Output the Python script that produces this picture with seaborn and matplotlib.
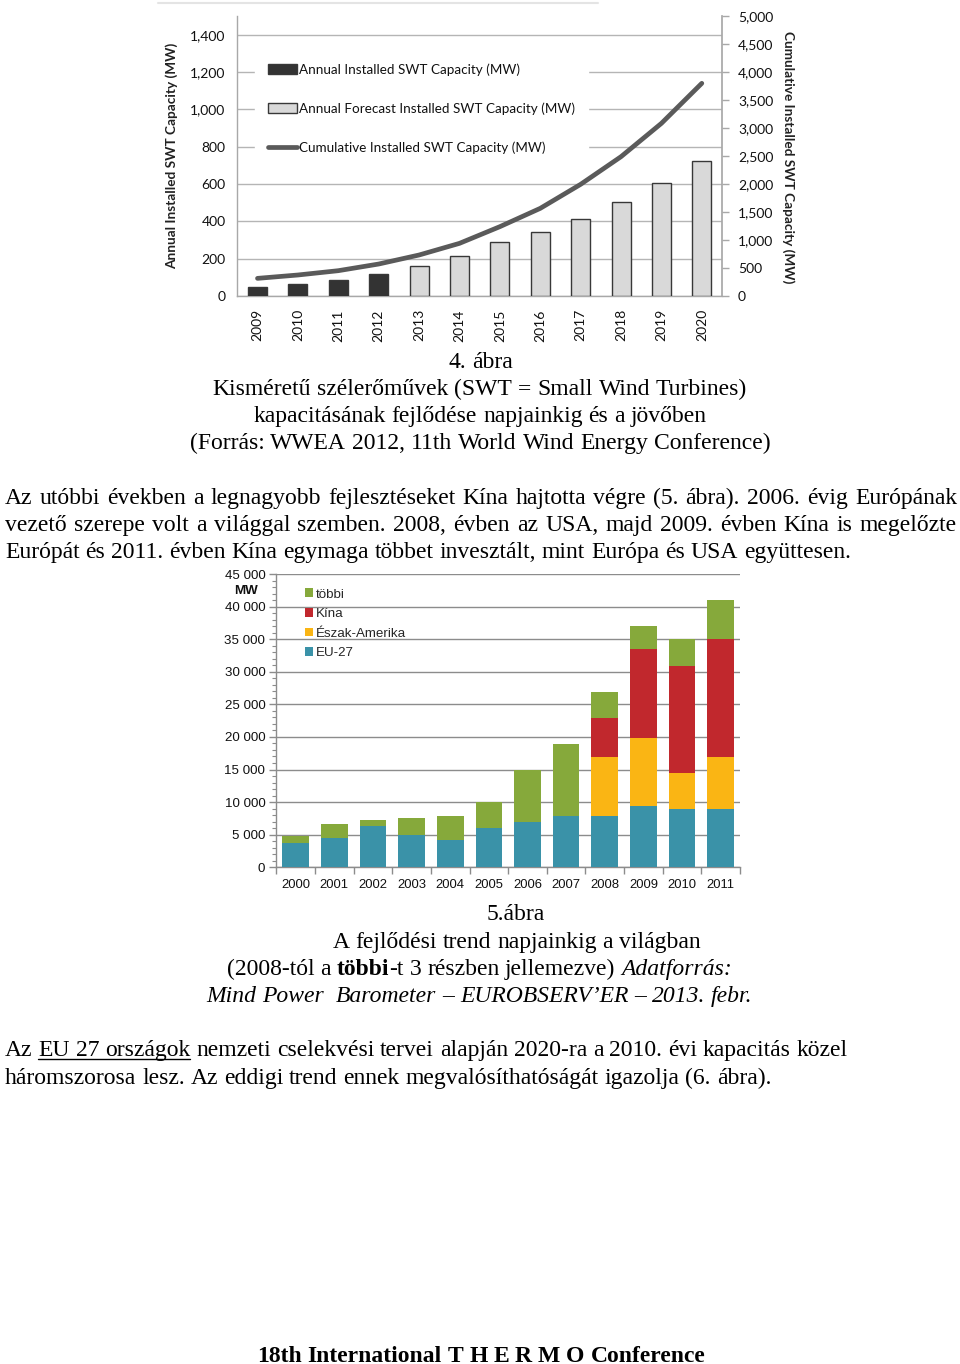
import numpy as np
import pandas as pd
import matplotlib
matplotlib.use("Agg")
import matplotlib.pyplot as plt
import seaborn as sns
from matplotlib.lines import Line2D
from matplotlib.patches import Patch
from matplotlib.ticker import FixedLocator, MultipleLocator

# ---------------- data: figure 4 (small wind turbines) ----------------
swt_years = ['2009', '2010', '2011', '2012', '2013', '2014',
             '2015', '2016', '2017', '2018', '2019', '2020']
swt_annual = [50, 65, 85, 120, 160, 212, 288, 344, 414, 501, 604, 721]
swt_type = ['actual'] * 4 + ['forecast'] * 8
swt_cumulative = [315, 375, 452, 571, 732, 940, 1238, 1565, 1994, 2488, 3083, 3798]
swt_left_ticks = [0, 200, 400, 600, 800, 1000, 1200, 1400]
swt_right_ticks = [0, 500, 1000, 1500, 2000, 2500, 3000, 3500, 4000, 4500, 5000]
swt_legend = ['Annual Installed SWT Capacity (MW)',
              'Annual Forecast Installed SWT Capacity (MW)',
              'Cumulative Installed SWT Capacity (MW)']

# ---------------- data: figure 5 (world wind capacity) ----------------
wind_years = ['2000', '2001', '2002', '2003', '2004', '2005',
              '2006', '2007', '2008', '2009', '2010', '2011']
eu27 = [3700, 4500, 6400, 4900, 4200, 6000, 6900, 7900, 7900, 9400, 8900, 8900]
north_america = [0, 0, 0, 0, 0, 0, 0, 0, 9000, 10500, 5500, 8000]
china = [0, 0, 0, 0, 0, 0, 0, 0, 6000, 13600, 16500, 18100]
others = [1050, 2200, 870, 2630, 3740, 3950, 8070, 11070, 4000, 3500, 4100, 6000]
wind_yticks = [0, 5000, 10000, 15000, 20000, 25000, 30000, 35000, 40000, 45000]
wind_series = ['többi', 'Kína', 'Észak-Amerika', 'EU-27']

W, H = 960, 1364
sns.set_theme(style='white')
plt.rcParams['font.family'] = ['Lato', 'DejaVu Sans']

fig = plt.figure(figsize=(W / 100, H / 100), dpi=100)
fig.patch.set_facecolor('white')


def fx(x):
    return x / W


def fy(y):
    return 1 - y / H


# faint frame line above the first chart
fig.add_artist(Line2D([fx(158), fx(598)], [fy(2.5), fy(2.5)], color='#e4e4e4', lw=1.5))

# ======================= chart 1 =======================
ax1 = fig.add_axes([fx(237.3), fy(296), 484.7 / W, 280 / H])
df1 = pd.DataFrame({'year': swt_years, 'annual': swt_annual, 'type': swt_type})
sns.barplot(data=df1, x='year', y='annual', hue='type',
            palette={'actual': '#333333', 'forecast': '#d9d9d9'},
            dodge=False, width=0.47, saturation=1, errorbar=None,
            edgecolor='#383838', linewidth=1.0, legend=False, ax=ax1, zorder=3)
ax1.set_xlim(-0.5, len(swt_years) - 0.5)
ax1.set_ylim(0, 1500)
ax1.set_yticks(swt_left_ticks)
ax1.set_yticklabels([f'{v:,}' for v in swt_left_ticks])
ax1.set_xticks(range(len(swt_years)))
ax1.set_xticklabels(swt_years, rotation=90)
ax1.yaxis.grid(True, color='#b5b5b5', lw=1.0)
ax1.xaxis.grid(False)
ax1.set_axisbelow(True)
ax1.tick_params(axis='y', length=0, pad=8.5, labelsize=10, labelcolor='#111111')
ax1.tick_params(axis='x', length=0, pad=9.5, labelsize=10, labelcolor='#111111')
for s in ['top', 'right']:
    ax1.spines[s].set_visible(False)
for s in ['left', 'bottom']:
    ax1.spines[s].set_color('#a8a8a8')
    ax1.spines[s].set_linewidth(1.0)
ax1.set_xlabel('')
ax1.set_ylabel('Annual Installed SWT Capacity (MW)', fontsize=9.8, weight='bold',
               color='#222222')
ax1.yaxis.set_label_coords(-0.1223, 0.5)

ax1r = ax1.twinx()
sns.lineplot(x=np.arange(len(swt_years)), y=swt_cumulative, ax=ax1r,
             color='#5a5a5a', lw=3.4, solid_capstyle='round')
ax1r.set_ylim(0, 5000)
ax1r.set_yticks(swt_right_ticks)
ax1r.set_yticklabels([f'{v:,}' for v in swt_right_ticks])
ax1r.tick_params(axis='y', length=5, width=1, color='#a8a8a8', pad=6.5,
                 labelsize=10, labelcolor='#111111')
ax1r.grid(False)
for s in ['top', 'left', 'bottom']:
    ax1r.spines[s].set_visible(False)
ax1r.spines['right'].set_color('#a8a8a8')
ax1r.set_ylabel('Cumulative Installed SWT Capacity (MW)', fontsize=9.8, weight='bold',
                color='#222222', rotation=270, labelpad=14)
ax1r.yaxis.set_label_coords(1.1506, 0.495)

h1 = [Patch(facecolor='#333333', edgecolor='#383838', lw=1.0),
      Patch(facecolor='#d9d9d9', edgecolor='#383838', lw=1.0),
      Line2D([0], [0], color='#5a5a5a', lw=3.4)]
leg1 = ax1r.legend(h1, swt_legend, loc='upper left',
                   bbox_to_anchor=(fx(255), fy(50)), bbox_transform=fig.transFigure,
                   fontsize=9.7, frameon=True, facecolor='white', edgecolor='white',
                   framealpha=1, fancybox=False, borderpad=0.98, labelspacing=1.97,
                   handlelength=2.15, handletextpad=0.15, borderaxespad=0)
for t in leg1.get_texts():
    t.set_color('#111111')

# ======================= chart 2 =======================
ax2 = fig.add_axes([fx(276.4), fy(867.3), 463.6 / W, 293.3 / H])
wind_colors = {'többi': '#86a93b', 'Kína': '#c1282d',
               'Észak-Amerika': '#fab514', 'EU-27': '#3a92a8'}
eu_a = np.array(eu27)
na_a = np.array(north_america)
cn_a = np.array(china)
ot_a = np.array(others)
stack_tops = {'többi': eu_a + na_a + cn_a + ot_a,
              'Kína': eu_a + na_a + cn_a,
              'Észak-Amerika': eu_a + na_a,
              'EU-27': eu_a}
for name in wind_series:
    sns.barplot(x=wind_years, y=stack_tops[name], color=wind_colors[name],
                saturation=1, width=0.69, errorbar=None, linewidth=0,
                ax=ax2, zorder=3)
ax2.set_xlim(-0.5, len(wind_years) - 0.5)
ax2.set_ylim(0, 45000)
ax2.set_yticks(wind_yticks)
ax2.set_yticklabels([f'{v:,}'.replace(',', ' ') for v in wind_yticks],
                    family='Liberation Sans')
ax2.yaxis.set_minor_locator(MultipleLocator(1000))
ax2.set_xticks(range(len(wind_years)))
ax2.set_xticklabels(wind_years, family='Liberation Sans')
ax2.xaxis.set_minor_locator(FixedLocator(np.arange(-0.5, len(wind_years), 1.0)))
ax2.yaxis.grid(True, which='major', color='#8c8c8c', lw=1.0)
ax2.xaxis.grid(False)
ax2.set_axisbelow(True)
ax2.tick_params(axis='y', which='major', direction='out', length=5, width=1,
                color='#8c8c8c', pad=3, labelsize=9.6, labelcolor='#111111', left=True)
ax2.tick_params(axis='y', which='minor', direction='out', length=3, width=0.8,
                color='#8c8c8c', left=True)
ax2.tick_params(axis='x', which='major', length=0, pad=8.5, labelsize=9.4,
                labelcolor='#111111')
ax2.tick_params(axis='x', which='minor', direction='out', length=5, width=1,
                color='#8c8c8c', bottom=True)
for s in ['top', 'right']:
    ax2.spines[s].set_visible(False)
for s in ['left', 'bottom']:
    ax2.spines[s].set_color('#8c8c8c')
    ax2.spines[s].set_linewidth(1.0)
ax2.set_xlabel('')
ax2.set_ylabel('')
fig.text(fx(246), fy(591), 'MW', ha='center', va='center', weight='bold',
         fontsize=9.6, family='Liberation Sans', color='#111111')

h2 = [Patch(facecolor=wind_colors[n], edgecolor='none') for n in wind_series]
leg2 = fig.legend(h2, wind_series, loc='upper left',
                  bbox_to_anchor=(fx(305), fy(588.5)), bbox_transform=fig.transFigure,
                  frameon=False, borderpad=0, borderaxespad=0,
                  labelspacing=0.57, handlelength=0.62, handleheight=0.62,
                  handletextpad=0.2, prop={'family': 'Liberation Sans', 'size': 9.6})

# ======================= page text =======================
renderer = fig.canvas.get_renderer()
SERIF = 'Liberation Serif'


def text_w(s, **kw):
    t = fig.text(0, 0, s, **kw)
    w = t.get_window_extent(renderer).width
    t.remove()
    return w


ref_line = ('Európát és 2011. évben Kína egymaga többet invesztált, '
            'mint Európa és USA együttesen.')
FS = 10 * 844 / text_w(ref_line, family=SERIF, fontsize=10)


def place_line(segments, y, x0=5, x1=None, center=None, justify=False, size=None):
    size = size or FS
    base = dict(family=SERIF, fontsize=size, color='black')
    tokens = []
    gap = 0
    for txt, kw in segments:
        parts = txt.split(' ')
        for i, p in enumerate(parts):
            if i > 0:
                gap += 1
            if p == '':
                continue
            tokens.append((p, kw, gap if tokens else 0))
            gap = 0
    widths = [text_w(p, **base, **kw) for p, kw, _ in tokens]
    space = text_w('a a', **base) - text_w('aa', **base)
    ngaps = sum(g for _, _, g in tokens)
    natural = sum(widths) + ngaps * space
    if justify and ngaps:
        space = (x1 - x0 - sum(widths)) / ngaps
        start = x0
    elif center is not None:
        start = center - natural / 2
    else:
        start = x0
    x = start
    spans = []
    for (p, kw, g), w in zip(tokens, widths):
        x += g * space
        fig.text(fx(x), fy(y), p, ha='left', va='baseline', **base, **kw)
        spans.append((p, x, x + w))
        x += w
    return spans


R = {}
B = {'weight': 'bold'}
I = {'style': 'italic'}
off = FS * 1.389 * 0.30 + 0.5  # centre-to-baseline offset in px

# caption of figure 4
place_line([('4. ábra', R)], 360 + off, center=480.5)
place_line([('Kisméretű szélerőművek (SWT = Small Wind Turbines)', R)], 387 + off, center=480)
place_line([('kapacitásának fejlődése napjainkig és a jövőben', R)], 414 + off, center=480)
place_line([('(Forrás: WWEA 2012, 11th World Wind Energy Conference)', R)], 441 + off, center=480)

# paragraph
place_line([('Az utóbbi években a legnagyobb fejlesztéseket Kína hajtotta végre '
             '(5. ábra). 2006. évig Európának', R)], 496 + off, x0=5, x1=957, justify=True)
place_line([('vezető szerepe volt a világgal szemben. 2008, évben az USA, majd 2009. '
             'évben Kína is megelőzte', R)], 523 + off, x0=5, x1=957, justify=True)
place_line([(ref_line, R)], 550 + off, x0=5)

# caption of figure 5
place_line([('5.ábra', R)], 912 + off, center=515.5)
place_line([('A fejlődési trend napjainkig a világban', R)], 940 + off, center=516.5)
place_line([('(2008-tól a ', R), ('többi', B), ('-t 3 részben jellemezve) ', R),
            ('Adatforrás:', I)], 967 + off, center=479.5)
place_line([('Mind Power  Barometer – EUROBSERV’ER – 2013. febr.', I)], 994 + off,
           center=479.5)

# last paragraph
sp = place_line([('Az EU 27 országok nemzeti cselekvési tervei alapján 2020-ra a '
                  '2010. évi kapacitás közel', R)], 1048 + off, x0=5)
u0 = sp[1][1]
u1 = sp[3][2]
fig.add_artist(Line2D([fx(u0), fx(u1)], [fy(1048 + off + 3), fy(1048 + off + 3)],
                      color='black', lw=1.0))
place_line([('háromszorosa lesz. Az eddigi trend ennek megvalósíthatóságát '
             'igazolja (6. ábra).', R)], 1076 + off, x0=5)

# footer
place_line([('18th International T H E R M O Conference', B)], 1354 + off, center=481)

fig.savefig('out.png', dpi=100, facecolor='white')
